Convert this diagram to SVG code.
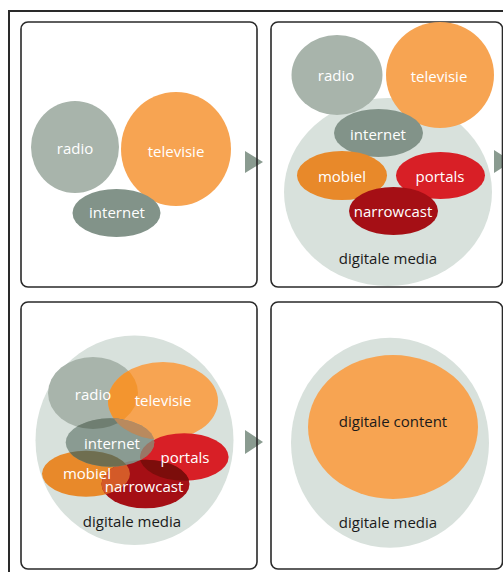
<svg xmlns="http://www.w3.org/2000/svg" width="503" height="572" viewBox="0 0 503 572">
<style>
.panel{fill:none;stroke:#2a2a2a;stroke-width:1.6}
.frame{fill:none;stroke:#2a2a2a;stroke-width:2}
.lbl{font-family:"Open Sans","Noto Sans",sans-serif;font-size:15px;font-weight:500;fill:#ffffff;text-anchor:middle}
.dark{font-family:"Open Sans","Noto Sans",sans-serif;font-size:15px;font-weight:500;fill:#1a1a1a;text-anchor:middle}
.arrow{fill:#8a9b90}
.radio{fill:#a8b4ab}
.tv{fill:#f7a452}
.net{fill:#829389}
.mob{fill:#e8892a}
.por{fill:#d81f26}
.nar{fill:#a50f15}
.dm{fill:#d8e1dc}
</style>
<defs>
<clipPath id="cRadio3"><ellipse cx="93" cy="393" rx="45" ry="36"/></clipPath>
<clipPath id="cTv3"><ellipse cx="163" cy="401" rx="55" ry="39"/></clipPath>
<clipPath id="cPor3"><ellipse cx="184.3" cy="457" rx="44.3" ry="23.7"/></clipPath>
<clipPath id="cMob3"><ellipse cx="86" cy="473.7" rx="44" ry="23"/></clipPath>
</defs>
<rect width="503" height="572" fill="#ffffff"/>
<rect class="frame" x="9" y="11" width="510" height="580"/>

<g id="connectors">
<polygon class="arrow" points="245,151 263,162 245,173"/>
<polygon class="arrow" points="494,150 512,161.5 494,173"/>
<polygon class="arrow" points="245,430 263,442 245,454"/>
</g>

<g id="panel1">
<rect class="panel" x="21" y="22" width="236" height="265" rx="7"/>
<ellipse class="radio" cx="75" cy="147" rx="44" ry="46"/>
<ellipse class="tv" cx="176" cy="149" rx="55" ry="57"/>
<ellipse class="net" cx="116.5" cy="213" rx="44" ry="24"/>
<text class="lbl" x="75" y="154">radio</text>
<text class="lbl" x="176" y="157">televisie</text>
<text class="lbl" x="117" y="218">internet</text>
</g>

<g id="panel2">
<rect class="panel" x="271" y="22" width="231.5" height="265" rx="7"/>
<ellipse class="dm" cx="388" cy="192" rx="104" ry="94"/>
<ellipse class="radio" cx="337" cy="75" rx="45.5" ry="40"/>
<ellipse class="tv" cx="440" cy="75" rx="54" ry="53"/>
<ellipse class="net" cx="378.5" cy="133" rx="44.5" ry="24"/>
<ellipse class="mob" cx="342" cy="175.5" rx="45" ry="24.5"/>
<ellipse class="por" cx="440.5" cy="175.5" rx="44.5" ry="23.5"/>
<ellipse class="nar" cx="393.5" cy="211" rx="44.5" ry="24"/>
<text class="lbl" x="336" y="81">radio</text>
<text class="lbl" x="439" y="82">televisie</text>
<text class="lbl" x="378" y="140">internet</text>
<text class="lbl" x="342" y="182">mobiel</text>
<text class="lbl" x="440" y="182">portals</text>
<text class="lbl" x="393" y="217">narrowcast</text>
<text class="dark" x="388" y="264">digitale media</text>
</g>

<g id="panel3">
<rect class="panel" x="21" y="302" width="236" height="267" rx="7"/>
<ellipse class="dm" cx="134.5" cy="440.3" rx="99" ry="104.7"/>
<ellipse class="radio" cx="93" cy="393" rx="45" ry="36"/>
<ellipse class="tv" cx="163" cy="401" rx="55" ry="39"/>
<ellipse cx="163" cy="401" rx="55" ry="39" fill="#f3952f" clip-path="url(#cRadio3)"/>
<ellipse class="por" cx="184.3" cy="457" rx="44.3" ry="23.7"/>
<ellipse class="mob" cx="86" cy="473.7" rx="44" ry="23"/>
<ellipse class="nar" cx="145.5" cy="484" rx="44" ry="24.3"/>
<ellipse cx="145.5" cy="484" rx="44" ry="24.3" fill="#7c0d0b" clip-path="url(#cPor3)"/>
<ellipse cx="145.5" cy="484" rx="44" ry="24.3" fill="#d45a28" clip-path="url(#cMob3)"/>
<ellipse class="net" cx="110" cy="442.5" rx="44.3" ry="24.2" fill-opacity="0.9"/>
<ellipse cx="110" cy="442.5" rx="44.3" ry="24.2" fill="#6f7e71" clip-path="url(#cRadio3)"/>
<ellipse cx="110" cy="442.5" rx="44.3" ry="24.2" fill="#b98a5e" clip-path="url(#cTv3)"/>
<ellipse cx="110" cy="442.5" rx="44.3" ry="24.2" fill="#9a7665" clip-path="url(#cPor3)"/>
<ellipse cx="110" cy="442.5" rx="44.3" ry="24.2" fill="#6f6e50" clip-path="url(#cMob3)"/>
<text class="lbl" x="93" y="400">radio</text>
<text class="lbl" x="163" y="406">televisie</text>
<text class="lbl" x="112" y="449">internet</text>
<text class="lbl" x="185" y="463">portals</text>
<text class="lbl" x="87" y="479">mobiel</text>
<text class="lbl" x="144" y="492">narrowcast</text>
<text class="dark" x="132" y="527">digitale media</text>
</g>

<g id="panel4">
<rect class="panel" x="271" y="302" width="231.5" height="267" rx="7"/>
<ellipse class="dm" cx="390" cy="442.7" rx="99" ry="105"/>
<ellipse class="tv" cx="393" cy="427" rx="85" ry="72"/>
<text class="dark" x="393" y="427">digitale content</text>
<text class="dark" x="388" y="528">digitale media</text>
</g>
</svg>
